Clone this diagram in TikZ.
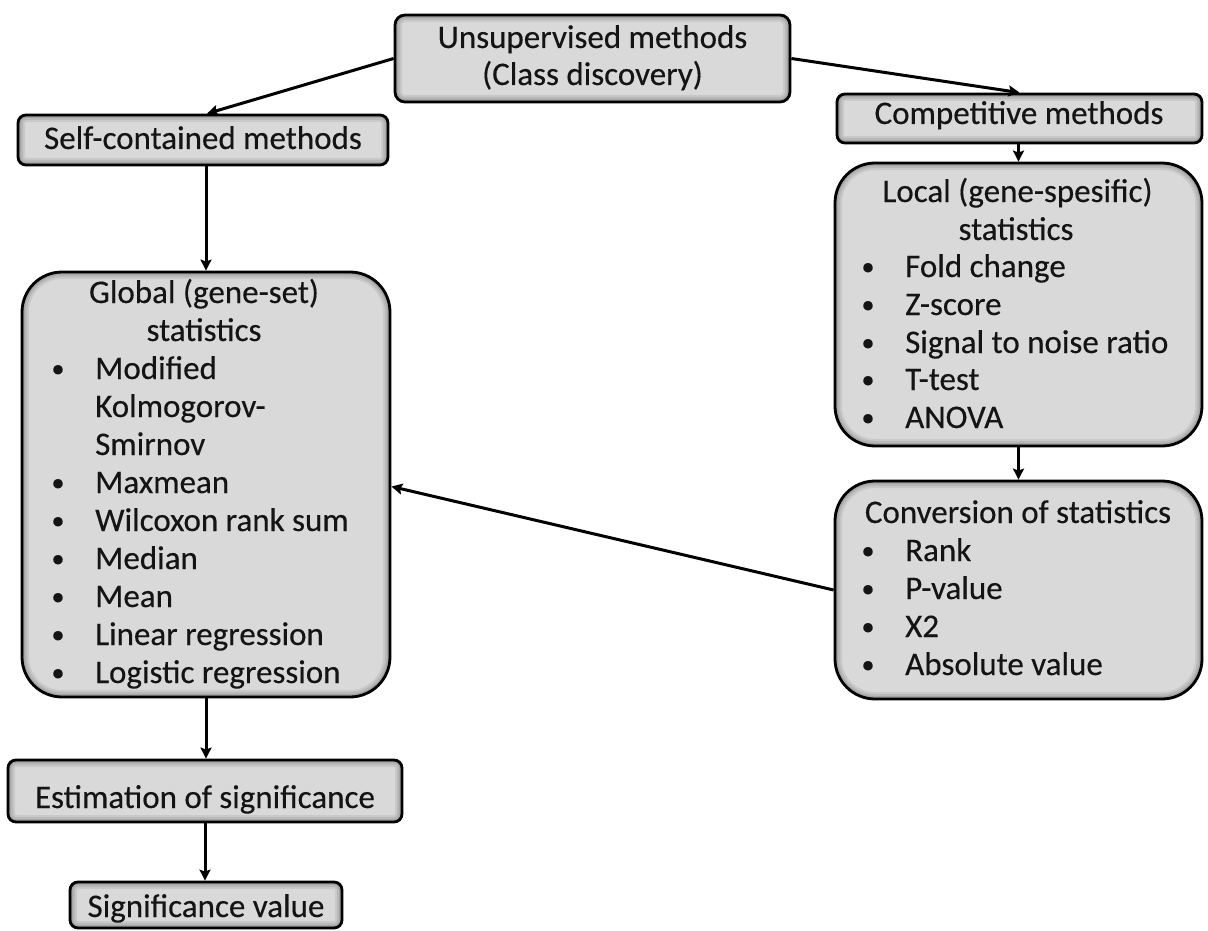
\documentclass[tikz,border=0pt]{standalone}
\usepackage{fontspec}
\setmainfont{Carlito}
\newfontfamily\diagfont{Carlito}[UprightFeatures={FakeBold=0.35}]
\usetikzlibrary{arrows.meta}
\definecolor{boxfill}{RGB}{217,217,217}
\definecolor{txtcol}{RGB}{20,20,20}
\tikzset{
  box/.style={draw=black, line width=2.8pt, fill=boxfill, rounded corners=#1, inner sep=0pt,
    path picture={
      \foreach \w/\o in {14/0.07,10/0.08,6/0.10,3/0.12}
        \draw[line width=\w pt, black, opacity=\o, rounded corners=#1]
          (path picture bounding box.south west) rectangle (path picture bounding box.north east);
    }},
  txt/.style={font=\diagfont\fontsize{33}{38}\selectfont, text=txtcol, inner sep=0pt},
  bul/.style={font=\diagfont\fontsize{26}{38}\selectfont, text=txtcol, inner sep=0pt},
  conn/.style={draw=black, line width=3pt, -{Stealth[length=11pt,width=11pt,inset=2pt]}}
}
\begin{document}
\begin{tikzpicture}[x=1pt,y=-1pt]
\useasboundingbox[fill=white] (0,0) rectangle (1208,931);

% boxes
\node[box=10pt, minimum width=395pt, minimum height=87pt] (unsup) at (592.5,58.5) {};
\node[box=8pt, minimum width=370pt, minimum height=50pt] (self) at (203,140) {};
\node[box=8pt, minimum width=365pt, minimum height=49pt] (comp) at (1019.5,118.5) {};
\node[box=40pt, minimum width=368pt, minimum height=425pt] (global) at (206,484.5) {};
\node[box=40pt, minimum width=367pt, minimum height=283pt] (local) at (1018.5,304.5) {};
\node[box=40pt, minimum width=367pt, minimum height=218pt] (conv) at (1018.5,590) {};
\node[box=8pt, minimum width=394pt, minimum height=62pt] (est) at (205,791) {};
\node[box=8pt, minimum width=272pt, minimum height=46pt] (sig) at (206,905) {};

% texts
\node[txt, anchor=base] (unsupA) at (592.5,48) {Unsupervised methods};
\node[txt, anchor=base] (unsupB) at (592.5,85) {(Class discovery)};
\node[txt, anchor=base] (selfT) at (203,149) {Self-contained methods};
\node[txt, anchor=base] (compT) at (1019,124) {Competitive methods};
\node[txt, anchor=base] (estT) at (205,808) {Estimation of significance};
\node[txt, anchor=base] (sigT) at (206,917) {Significance value};

% global list
\node[txt, anchor=base] (gh1) at (204,303) {Global (gene-set)};
\node[txt, anchor=base] (gh2) at (204,341) {statistics};
\node[bul, anchor=base] (gb1) at (58,377) {•};
\node[txt, anchor=base west] (gi1) at (95,379) {Modified};
\node[txt, anchor=base west] (gi1b) at (95,417) {Kolmogorov-};
\node[txt, anchor=base west] (gi1c) at (95,455) {Smirnov};
\node[bul, anchor=base] (gb2) at (58,491) {•};
\node[txt, anchor=base west] (gi2) at (95,493) {Maxmean};
\node[bul, anchor=base] (gb3) at (58,529) {•};
\node[txt, anchor=base west] (gi3) at (95,531) {Wilcoxon rank sum};
\node[bul, anchor=base] (gb4) at (58,567) {•};
\node[txt, anchor=base west] (gi4) at (95,569) {Median};
\node[bul, anchor=base] (gb5) at (58,605) {•};
\node[txt, anchor=base west] (gi5) at (95,607) {Mean};
\node[bul, anchor=base] (gb6) at (58,643) {•};
\node[txt, anchor=base west] (gi6) at (95,645) {Linear regression};
\node[bul, anchor=base] (gb7) at (58,681) {•};
\node[txt, anchor=base west] (gi7) at (95,683) {Logistic regression};

% local list
\node[txt, anchor=base] (lh1) at (1017.5,202) {Local (gene-spesific)};
\node[txt, anchor=base] (lh2) at (1016,240) {statistics};
\node[bul, anchor=base] (lb1) at (868,275) {•};
\node[txt, anchor=base west] (li1) at (905,277) {Fold change};
\node[bul, anchor=base] (lb2) at (868,313) {•};
\node[txt, anchor=base west] (li2) at (905,315) {Z-score};
\node[bul, anchor=base] (lb3) at (868,351) {•};
\node[txt, anchor=base west] (li3) at (905,353) {Signal to noise ratio};
\node[bul, anchor=base] (lb4) at (868,388) {•};
\node[txt, anchor=base west] (li4) at (905,390) {T-test};
\node[bul, anchor=base] (lb5) at (868,426) {•};
\node[txt, anchor=base west] (li5) at (905,428) {ANOVA};

% conversion list
\node[txt, anchor=base] (ch1) at (1018,523) {Conversion of statistics};
\node[bul, anchor=base] (cb1) at (868,559) {•};
\node[txt, anchor=base west] (ci1) at (905,561) {Rank};
\node[bul, anchor=base] (cb2) at (868,597) {•};
\node[txt, anchor=base west] (ci2) at (905,599) {P-value};
\node[bul, anchor=base] (cb3) at (868,635) {•};
\node[txt, anchor=base west] (ci3) at (905,637) {X2};
\node[bul, anchor=base] (cb4) at (868,673) {•};
\node[txt, anchor=base west] (ci4) at (905,675) {Absolute value};

% connectors
\draw[conn] (unsup.west) -- ([xshift=4pt]self.north);
\draw[conn] (unsup.east) -- (comp.north);
\draw[conn] ([xshift=3pt]self.south) -- ([xshift=3pt]self.south |- global.north);
\draw[conn] ([xshift=-1pt]comp.south) -- ([xshift=-1pt]comp.south |- local.north);
\draw[conn] (local.south) -- (conv.north);
\draw[conn] (conv.west) -- ([yshift=-2pt]global.east);
\draw[conn] (global.south) -- (global.south |- est.north);
\draw[conn] (est.south) -- (est.south |- sig.north);
\end{tikzpicture}
\end{document}
